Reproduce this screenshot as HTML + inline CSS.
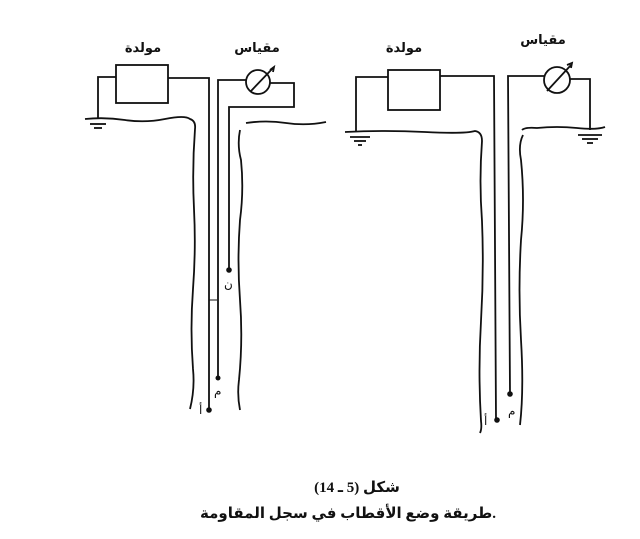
<!DOCTYPE html>
<html><head><meta charset="utf-8"><style>
html,body{margin:0;padding:0;background:#fff}
svg{display:block}
text{font-family:"Liberation Serif","DejaVu Sans",serif;fill:#111}
</style></head><body>
<svg width="640" height="539" viewBox="0 0 640 539" xmlns="http://www.w3.org/2000/svg">
<g fill="none" stroke="#111" stroke-width="1.8">
<!-- Left diagram -->
<rect x="116" y="65" width="52" height="38"/>
<polyline points="116,77 98,77 98,118"/>
<path d="M85,119 q20,-2 40,1 t40,-1 t25,0 q6,2 5,10 q-3,40 -1,80 q2,40 -1,80 q-3,40 0,80 q2,20 -3,40"/>
<line x1="90" y1="124" x2="106" y2="124"/><line x1="94" y1="128" x2="102" y2="128"/>
<polyline points="168,78 209,78 209,410"/>
<polyline points="218,378 218,80 246,80"/>
<circle cx="258" cy="82" r="12"/>
<line x1="251" y1="91" x2="273" y2="68"/>
<polyline points="270,70 274,67 273,72" />
<polyline points="270,83 294,83 294,107 229,107 229,270"/>
<path d="M240,130 q-3,15 1,30 q3,30 -1,60 q-3,40 0,80 q3,40 -1,80 q-2,15 1,30"/>
<path d="M246,123 q20,-3 40,0 t40,-1"/>
<line x1="209" y1="300" x2="217" y2="300" stroke-width="1"/>
<!-- Right diagram -->
<rect x="388" y="70" width="52" height="40"/>
<polyline points="388,77 356,77 356,131"/>
<path d="M345,132 q40,-2 80,0 t50,-1 q7,1 7,10 q-3,40 0,80 q2,50 -1,100 q-3,50 0,100 q1,8 -1,12"/>
<line x1="350" y1="137" x2="370" y2="137"/><line x1="354" y1="141" x2="366" y2="141"/><line x1="358" y1="145" x2="362" y2="145"/>
<polyline points="440,76 494,76 496,420"/>
<polyline points="510,394 508,76 544,76"/>
<circle cx="557" cy="80" r="13"/>
<line x1="547" y1="91" x2="571" y2="65"/>
<polyline points="567,65 572,63 571,68"/>
<polyline points="570,79 590,79 590,130"/>
<line x1="578" y1="135" x2="602" y2="135"/><line x1="582" y1="139" x2="598" y2="139"/><line x1="587" y1="143" x2="593" y2="143"/>
<path d="M522,130 q3,-3 15,-2 q20,-2 40,0 t28,-1"/>
<path d="M523,135 q-5,10 -2,25 q4,40 0,80 q-3,50 0,100 q3,50 -1,85"/>
</g>
<g fill="#111">
<circle cx="209" cy="410" r="2.8"/><circle cx="218" cy="378" r="2.5"/><circle cx="229" cy="270" r="2.8"/>
<circle cx="497" cy="420" r="2.8"/><circle cx="510" cy="394" r="2.8"/>
</g>
<g font-size="13" font-weight="bold" text-anchor="middle">
<text x="143" y="52">مولدة</text>
<text x="257" y="52">مقياس</text>
<text x="404" y="52">مولدة</text>
<text x="543" y="44">مقياس</text>
</g>
<g font-size="12">
<text x="224" y="288">ن</text>
<text x="214" y="395">م</text>
<text x="199" y="414">أ</text>
<text x="508" y="415">م</text>
<text x="484" y="425">أ</text>
</g>
<g font-size="15" font-weight="bold" text-anchor="middle">
<text x="357" y="492">شكل (5 ـ 14)</text>
<text x="348" y="518">طريقة وضع الأقطاب في سجل المقاومة.</text>
</g>
</svg>
</body></html>
